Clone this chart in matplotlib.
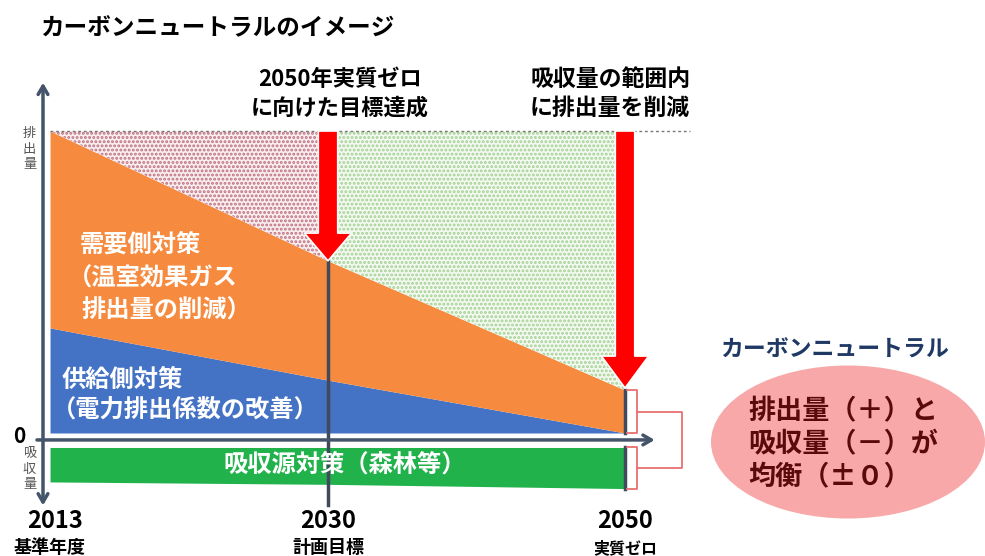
import numpy as np
import matplotlib
matplotlib.use('Agg')
import matplotlib.pyplot as plt
from matplotlib.patches import Ellipse

plt.rcParams['font.family'] = ['Noto Sans CJK JP', 'DejaVu Sans']
plt.rcParams['hatch.linewidth'] = 1.4

# 年と排出量のイメージ (2013年の排出量 = 100)
years = [2013, 2030, 2050]
year_labels = ['2013', '2030', '2050']
year_notes = ['基準年度', '計画目標', '実質ゼロ']
total_emission = [100, 57, 14.2]      # 需要側対策の上端
supply_side = [34.8, 17.5, 0]         # 供給側対策の上端
absorb_top = [-4.8, -4.8, -4.8]       # 吸収源対策
absorb_bottom = [-16.2, -17.0, -18.4]

ORANGE = '#f68b3f'
BLUE = '#4472c4'
GREEN = '#22b24c'
AXIS = '#44546a'
BRACKET = '#e87070'


# the sketch is not drawn to scale: 2013-2030 is wider than 2030-2050
def fwd(x):
    x = np.asarray(x, dtype=float)
    return np.where(x < 2030, (x - 2030) * 16.35, (x - 2030) * 14.85)


def inv(p):
    p = np.asarray(p, dtype=float)
    return np.where(p < 0, p / 16.35 + 2030, p / 14.85 + 2030)


fig = plt.figure(figsize=(9.85, 5.56), dpi=100)
ax = fig.add_axes([0, 0, 1, 1])
ax.set_xscale('function', functions=(fwd, inv))
ax.set_xlim(2009.94, 2074.24)
ax.set_ylim(-40.73, 143.38)
ax.axis('off')

# stacked areas
ax.fill_between(years, 0, supply_side, color=BLUE, lw=0)
ax.fill_between(years, supply_side, total_emission, color=ORANGE, lw=0)
ax.fill_between(years[:2], total_emission[:2], 100, facecolor='#f8eef0',
                edgecolor='#c0707e', hatch='....', lw=0)
ax.fill_between(years[1:], total_emission[1:], 100, facecolor='#f3f9f0',
                edgecolor='#a3d193', hatch='....', lw=0)
ax.fill_between(years, absorb_bottom, absorb_top, color=GREEN, lw=0)

# dashed top line
ax.plot([2013, 2054.4], [100, 100], color='#777777', lw=1, ls=(0, (2, 2)))

# vertical marker lines
ax.plot([2030, 2030], [total_emission[1], -24], color='#404a5a', lw=2.5)
ax.plot([2050, 2050], [total_emission[2], 0], color='#404a5a', lw=2.5)
ax.plot([2050, 2050], [absorb_top[2], absorb_bottom[2]], color='#404a5a', lw=2.5)

# axes
ax.annotate('', xy=(2012.57, 116), xytext=(2012.57, -24),
            arrowprops=dict(arrowstyle='<->,head_length=0.6,head_width=0.35',
                            color=AXIS, lw=2.5, shrinkA=0, shrinkB=0))
ax.annotate('', xy=(2052.0, -2.3), xytext=(2012.2, -2.3),
            arrowprops=dict(arrowstyle='->,head_length=0.6,head_width=0.35',
                            color=AXIS, lw=2.5, shrinkA=0, shrinkB=0))

# red arrows
for yr, tip, hl in [(2030, total_emission[1], 2.0), (2050, total_emission[2] + 0.7, 2.3)]:
    ax.annotate('', xy=(yr, tip), xytext=(yr, 100),
                arrowprops=dict(arrowstyle='simple,head_length=%.1f,head_width=3.4,tail_width=1.4' % hl,
                                mutation_scale=10, fc='#ff0000', ec='white', lw=1.2,
                                shrinkA=0, shrinkB=0))

# brackets at 2050
bx0, bx1, bx2 = 2050.15, 2050.8, 2053.85
top_mid = (total_emission[2] + 0) / 2
bot_mid = (absorb_top[2] + absorb_bottom[2]) / 2
ax.plot([bx0, bx1, bx1, bx0], [total_emission[2], total_emission[2], 0, 0], color=BRACKET, lw=1.3)
ax.plot([bx0, bx1, bx1, bx0], [absorb_top[2], absorb_top[2], absorb_bottom[2], absorb_bottom[2]],
        color=BRACKET, lw=1.3)
ax.plot([bx1, bx2, bx2, bx1], [top_mid, top_mid, bot_mid, bot_mid], color=BRACKET, lw=1.3)

# labels inside areas
white = dict(color='white', fontweight='bold', fontsize=17.5, va='center', ha='left')
ax.text(2014.8, 62.3, '需要側対策', **white)
ax.text(2014.1, 51.3, '（温室効果ガス', **white)
ax.text(2014.9, 40.7, '排出量の削減）', **white)
ax.text(2013.7, 17.5, '供給側対策', **white)
ax.text(2013.1, 7.6, '（電力排出係数の改善）', **white)
ax.text(2031.1, -10.6, '吸収源対策（森林等）', color='white', fontweight='bold',
        fontsize=17.5, va='center', ha='center')

# y-axis words
ax.text(2011.75, 94.0, '排\n出\n量', fontsize=9.5, color='#555555', ha='center', va='center',
        linespacing=1.25)
ax.text(2011.75, -12.0, '吸\n収\n量', fontsize=9.5, color='#555555', ha='center', va='center',
        linespacing=1.25)
ax.text(2011.1, -1.0, '0', fontsize=15, fontweight='bold', ha='center', va='center')

# x labels
for yr, lab, note in zip(years, year_labels, year_notes):
    xlab = yr + 0.3 if yr == 2013 else yr
    ax.text(xlab, -29.3, lab, fontsize=17, fontweight='bold', ha='center', va='center')
    ax.text(xlab - 0.3 if yr == 2013 else xlab, -38.0, note, fontsize=13 if yr != 2050 else 11.5,
            fontweight='bold', ha='center', va='center')

# headings above arrows
ax.text(2030.8, 116.9, '2050年実質ゼロ', fontsize=16, fontweight='bold', ha='center', va='center')
ax.text(2030.8, 107.6, 'に向けた目標達成', fontsize=16, fontweight='bold', ha='center', va='center')
ax.text(2049.0, 116.9, '吸収量の範囲内', fontsize=16.5, fontweight='bold', ha='center', va='center')
ax.text(2049.0, 107.6, 'に排出量を削減', fontsize=16.5, fontweight='bold', ha='center', va='center')

# carbon neutral balloon
ell = Ellipse((848 / 985, 1 - 442 / 556), 274 / 985, 153 / 556, transform=ax.transAxes,
              facecolor='#f8a8a8', edgecolor='none', clip_on=False)
ax.add_patch(ell)
ax.text(2064.1, 27.5, 'カーボンニュートラル', fontsize=16.5, fontweight='bold',
        color='#1f3864', ha='center', va='center')
for yv, line in zip([7.3, -3.6, -14.6], ['排出量（＋）と', '吸収量（－）が', '均衡（±０）']):
    ax.text(2058.3, yv, line, fontsize=19.5, fontweight='bold', color='#5a0a0a',
            ha='left', va='center')

fig.text(40 / 985, 1 - 28 / 556, 'カーボンニュートラルのイメージ', fontsize=17,
         fontweight='bold', ha='left', va='center')

fig.savefig('out.png', dpi=100)
